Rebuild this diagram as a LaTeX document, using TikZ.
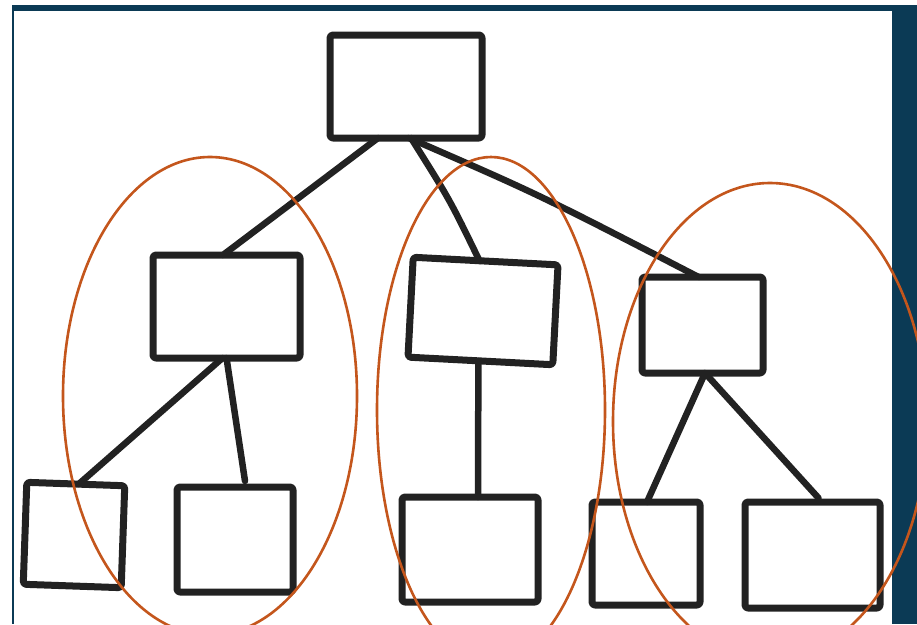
\documentclass[tikz,border=0pt]{standalone}
\usetikzlibrary{calc}
\definecolor{navy}{HTML}{0B3A55}
\definecolor{ink}{HTML}{222222}
\definecolor{rust}{HTML}{C4561C}
\begin{document}
\begin{tikzpicture}[x=1pt,y=-1pt,
  box/.style={draw=ink, line width=7pt, line join=round, rounded corners=3pt, inner sep=0pt, outer sep=0pt},
  link/.style={draw=ink, line width=6.5pt, line cap=round},
  group/.style={draw=rust, line width=2.6pt}]
\useasboundingbox (0,0) rectangle (917,624);
\clip (0,0) rectangle (917,624);
\fill[white] (0,0) rectangle (917,624);
\fill[navy] (12,5) rectangle (917,624);
\fill[white] (14,11) rectangle (892,624);

% boxes
\node[box, minimum width=152pt, minimum height=103pt] (top) at (406,86.5) {};
\node[box, minimum width=147pt, minimum height=103pt] (midL) at (226.5,306.5) {};
\node[box, minimum width=145pt, minimum height=100pt, rotate=-3] (midC) at (483,311) {};
\node[box, minimum width=121pt, minimum height=96pt] (midR) at (702.5,325) {};
\node[box, minimum width=98pt, minimum height=102pt, rotate=-2] (botA) at (74,535) {};
\node[box, minimum width=116pt, minimum height=105pt] (botB) at (235,539.5) {};
\node[box, minimum width=136pt, minimum height=105pt] (botC) at (470,549.5) {};
\node[box, minimum width=108pt, minimum height=103pt] (botD) at (646,553.5) {};
\node[box, minimum width=135pt, minimum height=106pt] (botE) at (812.5,555) {};

% connectors
\draw[link] ([xshift=-28pt]top.south) -- ([xshift=-3.5pt]midL.north);
\draw[link] ([xshift=5pt]top.south) .. controls (450,200) .. ([xshift=-6pt]midC.north);
\draw[link] ([xshift=3pt]top.south) .. controls (540,195) .. ([xshift=-4pt]midR.north);
\draw[link] ([xshift=-4pt]midL.south) -- ([xshift=3pt]botA.north);
\draw[link] ([xshift=0pt]midL.south) -- ([xshift=10pt,yshift=6pt]botB.north);
\draw[link] ([xshift=-2pt]midC.south) -- ([xshift=8pt]botC.north);
\draw[link] ([xshift=2.5pt]midR.south) -- ([xshift=1pt]botD.north);
\draw[link] ([xshift=2.5pt]midR.south) -- ([xshift=6pt,yshift=4pt]botE.north);

% groups
\draw[group] (210,396) ellipse [x radius=147pt, y radius=239pt];
\draw[group] (491,410) ellipse [x radius=114pt, y radius=253pt];
\draw[group] (770,421.5) ellipse [x radius=157pt, y radius=238.5pt];
\end{tikzpicture}
\end{document}
